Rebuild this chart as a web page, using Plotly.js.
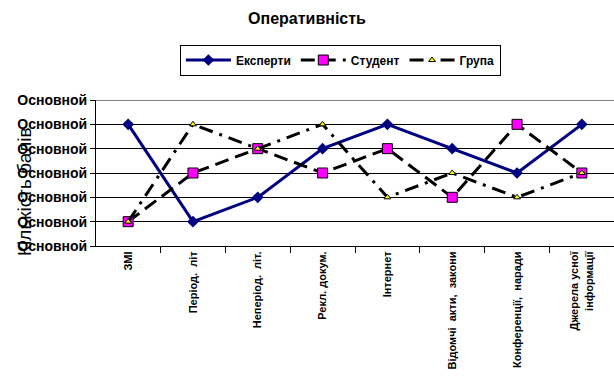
<!DOCTYPE html>
<html><head><meta charset="utf-8">
<script src="https://cdn.plot.ly/plotly-3.0.1.min.js"></script>
<style>html,body{margin:0;padding:0;background:#fff}#c{width:614px;height:386px}</style>
</head><body><div id="c"></div>
<script>
const categories = ["ЗМІ", "Період.  літ", "Неперіод.  літ.", "Рекл. докум.", "Інтернет", "Відомчі  акти,  закони", "Конференції,  наради", "Джерела усної<br>інформації"];
const experts = [5, 1, 2, 4, 5, 4, 3, 5];
const student = [1, 3, 4, 3, 4, 2, 5, 3];
const group = [1, 5, 4, 5, 2, 3, 2, 3];
const yTickVals = [0, 1, 2, 3, 4, 5, 6];
const yTickText = ["Основной", "Основной", "Основной", "Основной", "Основной", "Основной", "Основной"];

const F = "Arial, 'Liberation Sans', sans-serif";
const B = s => "<b>" + s + "</b>";
const traces = [
  {x: categories, y: experts, name: B("Експерти"), type: "scatter", mode: "lines+markers",
   line: {color: "#000080", width: 3}, marker: {symbol: "diamond", size: 9, color: "#000080"}},
  {x: categories, y: student, name: B("Студент"), type: "scatter", mode: "lines+markers",
   line: {color: "#000000", width: 3, dash: "14px,7px"},
   marker: {symbol: "square", size: 10, color: "#ff00ff", line: {color: "#000000", width: 1}}},
  {x: categories, y: group, name: B("Група"), type: "scatter", mode: "lines+markers",
   line: {color: "#000000", width: 3, dash: "14px,7px,3px,7px"},
   marker: {symbol: "triangle-up", size: 6, color: "#ffff00", line: {color: "#000000", width: 1}}}
];
const layout = {
  width: 614, height: 386,
  margin: {l: 96, r: 0, t: 100, b: 140},
  paper_bgcolor: "#fff", plot_bgcolor: "#fff",
  font: {family: F, color: "#000"},
  title: {text: "<b>Оперативність</b>", font: {size: 16, family: F, color: "#000"}, x: 0.5, xanchor: "center", y: 0.952, yanchor: "middle"},
  showlegend: true,
  legend: {orientation: "h", x: 0.162, xanchor: "left", y: 1.38, yanchor: "top",
    bordercolor: "#000", borderwidth: 1, bgcolor: "#fff",
    font: {size: 12, family: F}, itemwidth: 45, tracegroupgap: 0},
  xaxis: {type: "category", tickangle: -90, tickvals: categories, ticktext: categories.map(B), tickfont: {size: 11, family: F},
    showline: true, linecolor: "#000", linewidth: 1, ticks: "outside", ticklen: 6, tickcolor: "#000",
    tickson: "boundaries", showgrid: false, fixedrange: true, automargin: false},
  yaxis: {range: [0, 6], tickvals: yTickVals, ticktext: yTickText.map(B),
    tickfont: {size: 14, family: F}, showline: true, linecolor: "#000", linewidth: 1,
    ticks: "outside", ticklen: 5, tickcolor: "#000", showgrid: true, gridcolor: "#000", gridwidth: 1,
    zeroline: false, automargin: false},
  shapes: [{type: "line", xref: "paper", yref: "y", x0: 0, x1: 1, y0: 6, y1: 6, line: {color: "#808080", width: 2}}],
  annotations: [{text: "Кількість балів", xref: "paper", yref: "paper", x: 0, y: 0.37, xshift: -71,
    textangle: -90, showarrow: false, font: {size: 19, family: F, color: "#000"}, xanchor: "center", yanchor: "middle"}]
};
Plotly.newPlot("c", traces, layout, {displayModeBar: false, staticPlot: true});
</script></body></html>
